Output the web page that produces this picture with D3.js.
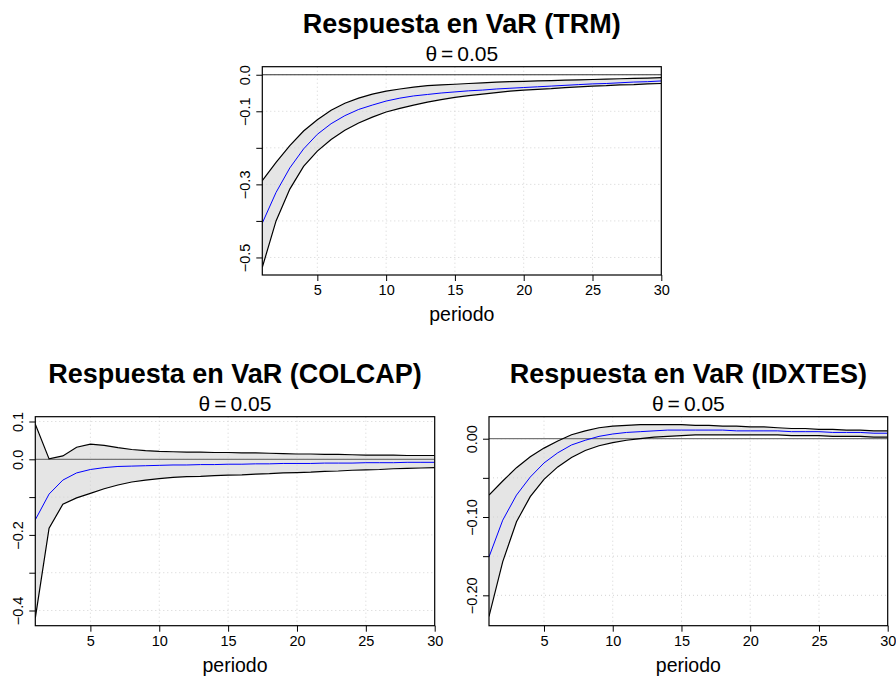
<!DOCTYPE html>
<html>
<head>
<meta charset="utf-8">
<script src="https://cdn.jsdelivr.net/npm/d3@7.9.0/dist/d3.min.js"></script>
<style>
  body { margin: 0; background: #fff; }
  svg { display: block; font-family: "Liberation Sans", Arial, Helvetica, sans-serif; }
</style>
</head>
<body>
<svg id="chart" width="896" height="677"></svg>
<script>
const periods = d3.range(1, 31);
const xTicks = [5, 10, 15, 20, 25, 30];

// TRM
const trmUpper = [-0.290, -0.240, -0.194, -0.154, -0.123, -0.097, -0.078, -0.064, -0.053, -0.045,
  -0.039, -0.034, -0.030, -0.028, -0.026, -0.024, -0.022, -0.020, -0.019, -0.018,
  -0.017, -0.016, -0.015, -0.014, -0.013, -0.012, -0.011, -0.010, -0.009, -0.008];
const trmMid = [-0.406, -0.322, -0.255, -0.203, -0.163, -0.134, -0.112, -0.095, -0.083, -0.072,
  -0.064, -0.058, -0.054, -0.050, -0.047, -0.044, -0.042, -0.039, -0.037, -0.035,
  -0.033, -0.031, -0.029, -0.027, -0.025, -0.024, -0.022, -0.020, -0.019, -0.017];
const trmLower = [-0.527, -0.400, -0.313, -0.251, -0.209, -0.177, -0.152, -0.132, -0.116, -0.102,
  -0.092, -0.083, -0.075, -0.068, -0.062, -0.057, -0.053, -0.049, -0.045, -0.042,
  -0.040, -0.038, -0.035, -0.033, -0.031, -0.030, -0.028, -0.027, -0.025, -0.024];
const trmTicks = [0, -0.1, -0.2, -0.3, -0.4, -0.5];
const trmLabels = ["0.0", "\u22120.1", "", "\u22120.3", "", "\u22120.5"];

// COLCAP
const colcapUpper = [0.093, 0.001, 0.009, 0.032, 0.040, 0.037, 0.031, 0.026, 0.023, 0.021,
  0.020, 0.019, 0.019, 0.018, 0.018, 0.017, 0.017, 0.016, 0.015, 0.014,
  0.014, 0.013, 0.013, 0.012, 0.011, 0.011, 0.011, 0.010, 0.010, 0.010];
const colcapMid = [-0.160, -0.092, -0.055, -0.036, -0.027, -0.022, -0.019, -0.018, -0.017, -0.016,
  -0.015, -0.015, -0.014, -0.014, -0.013, -0.013, -0.012, -0.012, -0.011, -0.011,
  -0.011, -0.010, -0.010, -0.010, -0.009, -0.009, -0.009, -0.008, -0.008, -0.008];
const colcapLower = [-0.420, -0.182, -0.119, -0.102, -0.090, -0.078, -0.068, -0.060, -0.055, -0.051,
  -0.048, -0.046, -0.045, -0.043, -0.042, -0.041, -0.039, -0.038, -0.036, -0.035,
  -0.034, -0.032, -0.031, -0.029, -0.028, -0.027, -0.025, -0.024, -0.023, -0.022];
const colcapTicks = [0.1, 0, -0.1, -0.2, -0.3, -0.4];
const colcapLabels = ["0.1", "0.0", "", "\u22120.2", "", "\u22120.4"];

// IDXTES
const idxtesUpper = [-0.072, -0.054, -0.037, -0.023, -0.012, -0.003, 0.005, 0.010, 0.014, 0.016,
  0.017, 0.018, 0.018, 0.018, 0.018, 0.017, 0.017, 0.016, 0.016, 0.015,
  0.015, 0.014, 0.013, 0.013, 0.012, 0.012, 0.011, 0.011, 0.010, 0.010];
const idxtesMid = [-0.151, -0.104, -0.072, -0.049, -0.031, -0.018, -0.008, -0.002, 0.003, 0.006,
  0.008, 0.009, 0.010, 0.011, 0.011, 0.011, 0.011, 0.011, 0.010, 0.010,
  0.010, 0.010, 0.009, 0.009, 0.009, 0.008, 0.008, 0.008, 0.007, 0.007];
const idxtesLower = [-0.227, -0.157, -0.106, -0.074, -0.052, -0.036, -0.024, -0.015, -0.009, -0.005,
  -0.002, 0.000, 0.002, 0.003, 0.004, 0.005, 0.005, 0.005, 0.005, 0.005,
  0.005, 0.005, 0.004, 0.004, 0.004, 0.003, 0.003, 0.003, 0.002, 0.002];
const idxtesTicks = [0, -0.05, -0.1, -0.15, -0.2];
const idxtesLabels = ["0.00", "", "\u22120.10", "", "\u22120.20"];

const panels = [
  { title: "Respuesta en VaR (TRM)", lower: trmLower, mid: trmMid, upper: trmUpper,
    ticks: trmTicks, labels: trmLabels, yDomain: [-0.548, 0.022],
    left: 262.3, right: 661.3, top: 66.7, bottom: 275, zeroColor: "#333" },
  { title: "Respuesta en VaR (COLCAP)", lower: colcapLower, mid: colcapMid, upper: colcapUpper,
    ticks: colcapTicks, labels: colcapLabels, yDomain: [-0.4402, 0.1127],
    left: 35.3, right: 434.7, top: 416.7, bottom: 625.7, zeroColor: "#777" },
  { title: "Respuesta en VaR (IDXTES)", lower: idxtesLower, mid: idxtesMid, upper: idxtesUpper,
    ticks: idxtesTicks, labels: idxtesLabels, yDomain: [-0.2388, 0.0281],
    left: 489, right: 887.7, top: 416.7, bottom: 625.7, zeroColor: "#777" }
];

const svg = d3.select("#chart");

function drawPanel(p) {
  const x = d3.scaleLinear().domain([1, 30]).range([p.left, p.right]);
  const y = d3.scaleLinear().domain(p.yDomain).range([p.bottom, p.top]);
  const g = svg.append("g");
  const cx = (p.left + p.right) / 2;

  const clipId = "clip" + Math.round(p.left);
  g.append("clipPath").attr("id", clipId)
    .append("rect")
    .attr("x", p.left).attr("y", p.top)
    .attr("width", p.right - p.left).attr("height", p.bottom - p.top);

  const rows = periods.map((d, i) => ({ t: d, lo: p.lower[i], mid: p.mid[i], hi: p.upper[i] }));

  const plot = g.append("g").attr("clip-path", `url(#${clipId})`);

  // band
  plot.append("path")
    .datum(rows)
    .attr("fill", "#e5e5e5")
    .attr("d", d3.area().x(d => x(d.t)).y0(d => y(d.lo)).y1(d => y(d.hi)));

  // grid
  plot.selectAll(".vgrid")
    .data(xTicks.filter(t => t < 30))
    .enter().append("line")
    .attr("x1", d => x(d)).attr("x2", d => x(d))
    .attr("y1", p.top).attr("y2", p.bottom)
    .attr("stroke", "#d3d3d3").attr("stroke-dasharray", "1,3");
  plot.selectAll(".hgrid")
    .data(p.ticks)
    .enter().append("line")
    .attr("x1", p.left).attr("x2", p.right)
    .attr("y1", d => y(d)).attr("y2", d => y(d))
    .attr("stroke", "#d3d3d3").attr("stroke-dasharray", "1,3");

  // zero line
  plot.append("line")
    .attr("x1", p.left).attr("x2", p.right)
    .attr("y1", y(0)).attr("y2", y(0))
    .attr("stroke", p.zeroColor).attr("stroke-width", 1.2);

  const line = key => d3.line().x(d => x(d.t)).y(d => y(d[key]));
  plot.append("path").datum(rows).attr("fill", "none").attr("stroke", "#000")
    .attr("stroke-width", 1.2).attr("d", line("lo"));
  plot.append("path").datum(rows).attr("fill", "none").attr("stroke", "#000")
    .attr("stroke-width", 1.2).attr("d", line("hi"));
  plot.append("path").datum(rows).attr("fill", "none").attr("stroke", "#0000ff")
    .attr("stroke-width", 1).attr("d", line("mid"));

  // frame
  g.append("rect")
    .attr("x", p.left).attr("y", p.top)
    .attr("width", p.right - p.left).attr("height", p.bottom - p.top)
    .attr("fill", "none").attr("stroke", "#000").attr("stroke-width", 1.2);

  // x axis
  const xAxis = g.append("g")
    .attr("transform", `translate(0,${p.bottom})`)
    .call(d3.axisBottom(x).tickValues(xTicks).tickSize(6).tickPadding(4).tickFormat(d3.format("d")));
  xAxis.select(".domain").remove();
  xAxis.selectAll("text").attr("font-size", 14.5).attr("fill", "#000")
    .attr("font-family", "Liberation Sans, Arial, sans-serif");
  xAxis.selectAll("line").attr("stroke", "#000");

  // y axis
  const yAxis = g.append("g")
    .attr("transform", `translate(${p.left},0)`)
    .call(d3.axisLeft(y).tickValues(p.ticks).tickSize(6).tickFormat((d, i) => p.labels[i]));
  yAxis.select(".domain").remove();
  yAxis.selectAll("line").attr("stroke", "#000");
  yAxis.selectAll("text")
    .attr("font-size", 14.5).attr("fill", "#000")
    .attr("font-family", "Liberation Sans, Arial, sans-serif")
    .attr("x", null).attr("dy", null)
    .attr("text-anchor", "middle")
    .attr("transform", "translate(-12.3,0) rotate(-90)");

  // titles
  g.append("text")
    .attr("x", cx).attr("y", p.top - 34)
    .attr("text-anchor", "middle")
    .attr("font-size", 27).attr("font-weight", "bold")
    .text(p.title);
  const sub = g.append("text")
    .attr("x", cx).attr("y", p.top - 6)
    .attr("text-anchor", "middle")
    .attr("font-size", 21);
  sub.append("tspan").text("\u03b8");
  sub.append("tspan").attr("dx", 4).text("=");
  sub.append("tspan").attr("dx", 4).text("0.05");
  g.append("text")
    .attr("x", cx).attr("y", p.bottom + 46)
    .attr("text-anchor", "middle")
    .attr("font-size", 19.5)
    .text("periodo");
}

panels.forEach(drawPanel);
</script>
</body>
</html>
